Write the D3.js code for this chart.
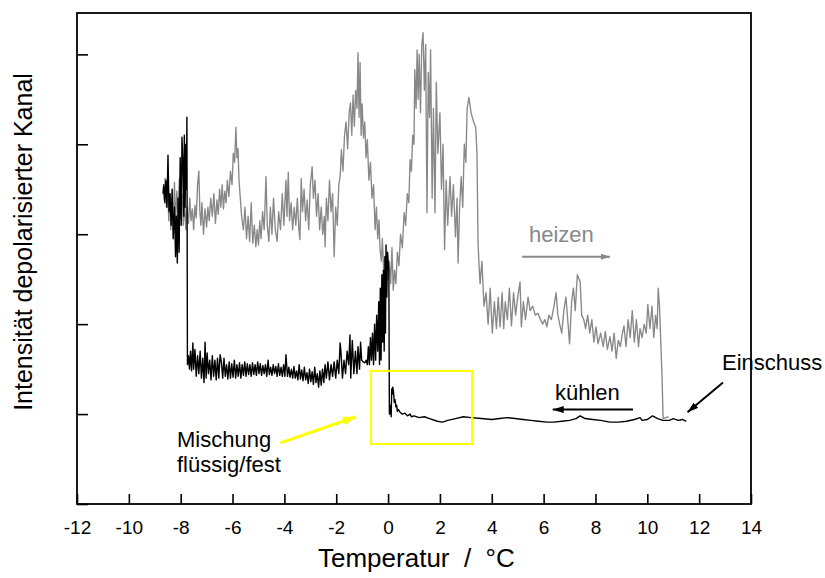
<!DOCTYPE html>
<head>
<meta charset="utf-8">
<style>

body {
  margin: 0;
  background: #fff;
}

text {
  font-family: "Liberation Sans", Arial, Helvetica, sans-serif;
  fill: #000;
}

.frame {
  fill: none;
  stroke: #000;
  stroke-width: 1.8px;
}

.tick line {
  stroke: #000;
  stroke-width: 1.6px;
}

.heat {
  fill: none;
  stroke: #888;
  stroke-width: 1.35px;
  stroke-linejoin: round;
}

.cool {
  fill: none;
  stroke: #000;
  stroke-width: 1.4px;
  stroke-linejoin: round;
}

</style>
<title>Depolarisation heizen / kuehlen</title>
</head>
<body>
<script src="https://cdn.jsdelivr.net/npm/d3@7"></script>
<script>

// temperature (degC), intensity (arb. units, axis ticks at 1..5)
var heatingFrozen = [
  [-8.68,3.52],[-8.64,3.38],[-8.60,3.62],[-8.55,3.30],[-8.50,3.55],[-8.46,3.15],[-8.42,3.45],[-8.38,3.05],
  [-8.33,3.40],[-8.28,3.20],[-8.24,3.58],[-8.20,3.10],[-8.15,3.48],[-8.10,3.25],[-8.05,3.62],[-8.00,3.18],
  [-7.95,3.45],[-7.90,3.10],[-7.85,3.35],[-7.80,3.05],[-7.76,3.30],[-7.70,3.12],[-7.65,3.40],[-7.60,3.15],
  [-7.55,3.28],[-7.50,3.05],[-7.45,3.32],[-7.40,3.18],[-7.35,3.55],[-7.30,3.70],[-7.26,3.25],[-7.22,3.10],
  [-7.18,3.35],[-7.12,3.00],[-7.06,3.28],[-7.00,3.08],[-6.95,3.30],[-6.90,3.15],[-6.84,3.40],[-6.78,3.20],
  [-6.72,3.45],[-6.66,3.12],[-6.60,3.38],[-6.55,3.22],[-6.50,3.50],[-6.45,3.30],[-6.40,3.55],[-6.35,3.28],
  [-6.30,3.48],[-6.25,3.35],[-6.20,3.60],[-6.14,3.42],[-6.08,3.70],[-6.02,3.55],[-5.97,3.90],[-5.92,3.80],
  [-5.87,4.19],[-5.83,3.85],[-5.79,3.95],[-5.75,3.60],[-5.70,3.40],[-5.65,3.20],[-5.58,3.05],[-5.52,3.30],
  [-5.46,2.95],[-5.40,3.20],[-5.34,2.92],[-5.28,3.35],[-5.22,2.90],[-5.16,3.10],[-5.10,2.86],[-5.05,3.05],
  [-5.00,2.88],[-4.95,3.15],[-4.90,2.95],[-4.84,3.25],[-4.78,3.05],[-4.71,3.64],[-4.66,3.10],[-4.60,2.92],
  [-4.54,3.30],[-4.48,3.00],[-4.42,3.40],[-4.35,3.05],[-4.28,2.92],[-4.22,3.25],[-4.15,3.05],[-4.08,3.45],
  [-4.02,3.10],[-3.94,3.60],[-3.90,3.20],[-3.85,3.69],[-3.80,3.15],[-3.74,3.35],[-3.68,3.05],[-3.62,3.30],
  [-3.56,3.10],[-3.50,3.40],[-3.44,3.05],[-3.40,2.94],[-3.35,3.62],[-3.30,3.25],[-3.24,3.50],[-3.18,3.15],
  [-3.12,3.38],[-3.06,3.05],[-3.00,3.55],[-2.93,3.75],[-2.88,3.40],[-2.82,3.60],[-2.76,3.20],[-2.70,3.45],
  [-2.64,3.05],[-2.58,3.30],[-2.52,3.00],[-2.46,3.20],[-2.43,2.86],[-2.38,3.40],[-2.32,3.15],[-2.26,3.60],
  [-2.20,3.25],[-2.14,3.45],[-2.08,2.75],[-2.02,3.30],[-1.96,3.10],[-1.90,3.55]
];

var heatingMelt = [
  [-1.85,3.64],[-1.80,3.94],[-1.74,3.70],[-1.68,4.10],[-1.62,4.25],[-1.56,3.95],[-1.50,4.35],[-1.45,4.46],
  [-1.40,4.10],[-1.35,4.55],[-1.30,4.20],[-1.25,4.60],[-1.20,4.40],[-1.16,5.02],[-1.12,4.30],[-1.08,4.91],
  [-1.04,4.10],[-1.00,4.45],[-0.95,4.07],[-0.90,4.25],[-0.85,3.85],[-0.80,4.05],[-0.74,3.60],[-0.68,3.80],
  [-0.62,3.40],[-0.56,3.55],[-0.50,3.05],[-0.45,3.30],[-0.40,2.95],[-0.35,3.16],[-0.31,2.83],[-0.26,2.70],
  [-0.22,2.95],[-0.17,2.60],[-0.12,2.75],[-0.06,2.50],[0.00,2.49],[0.05,2.70],[0.10,2.45],[0.15,2.85],
  [0.20,2.38],[0.25,2.60],[0.30,2.45],[0.36,2.80],[0.42,2.65],[0.48,3.00],[0.55,2.85],[0.62,3.24],
  [0.68,3.10],[0.74,3.45],[0.80,3.35],[0.85,3.83],[0.90,3.70],[0.95,4.10],[1.00,4.00],[1.03,4.83],
  [1.08,4.40],[1.12,5.05],[1.16,4.50],[1.20,5.00],[1.25,4.35],[1.30,5.10],[1.35,5.24],[1.40,4.60],
  [1.45,5.11],[1.50,3.24],[1.55,4.80],[1.60,4.30],[1.64,5.05],[1.70,3.40],[1.75,4.40],[1.81,3.24],
  [1.86,4.69],[1.92,3.90],[2.00,4.35],[2.06,3.50],[2.12,4.00],[2.18,2.83],[2.24,3.60],[2.30,3.10],
  [2.39,3.64],[2.45,3.20],[2.52,3.55],[2.60,2.97],[2.66,3.40],[2.70,2.68],[2.76,3.30],[2.82,3.64],
  [2.88,3.30],[2.94,4.00],[3.00,3.80],[3.05,4.40],[3.12,4.52],[3.20,4.35],[3.30,4.25],[3.38,4.19],
  [3.43,3.90],[3.47,2.90]
];

var heatingLiquid = [
  [3.52,2.60],[3.55,2.45],[3.62,2.70],[3.70,2.20],[3.78,2.35],[3.86,2.00],[3.94,2.40],[4.02,1.90],
  [4.10,2.25],[4.18,1.95],[4.25,2.30],[4.32,1.97],[4.40,2.35],[4.46,1.95],[4.52,2.25],[4.60,2.05],
  [4.68,2.40],[4.76,1.98],[4.84,2.35],[4.92,2.10],[5.00,2.30],[5.09,2.47],[5.14,1.97],[5.22,2.25],
  [5.30,2.05],[5.40,2.30],[5.48,2.15],[5.58,2.20],[5.68,2.10],[5.78,2.12],[5.88,2.05],[5.96,2.00],
  [6.05,2.05],[6.13,1.97],[6.20,2.10],[6.30,2.05],[6.40,2.20],[6.48,2.35],[6.55,2.10],[6.62,2.00],
  [6.70,1.90],[6.78,2.15],[6.86,2.30],[6.93,2.05],[7.00,1.78],[7.08,2.25],[7.15,2.40],[7.22,2.15],
  [7.30,2.55],[7.41,2.47],[7.47,2.10],[7.55,2.05],[7.62,1.95],[7.70,2.10],[7.78,1.90],[7.86,2.05],
  [7.94,1.80],[8.02,1.97],[8.10,1.78],[8.20,1.90],[8.30,1.75],[8.38,1.92],[8.46,1.72],[8.56,1.86],
  [8.64,1.70],[8.72,1.90],[8.80,1.62],[8.88,1.82],[8.96,1.75],[9.04,1.90],[9.10,1.98],[9.18,1.75],
  [9.26,2.05],[9.34,1.85],[9.42,2.15],[9.50,1.80],[9.58,2.05],[9.66,1.75],[9.72,1.95],[9.80,1.85],
  [9.88,2.00],[9.96,1.90],[10.02,2.22],[10.10,1.95],[10.18,2.20],[10.25,1.85],[10.32,2.10],[10.38,1.95],
  [10.42,2.40],[10.47,2.20],[10.52,1.80],[10.57,1.40],[10.61,0.95],[10.70,0.96],[10.82,0.97]
];

// cooling runs from the injection point (right) towards low temperatures
var coolingLiquid = [
  [11.50,0.92],[11.35,0.94],[11.20,0.93],[11.00,0.95],[10.85,0.93],[10.60,0.93],[10.40,0.95],[10.20,0.98],
  [10.00,0.94],[9.80,0.93],[9.72,0.96],[9.50,0.94],[9.20,0.92],[8.90,0.91],[8.56,0.91],[8.20,0.93],
  [7.90,0.94],[7.60,0.95],[7.41,0.98],[7.25,0.95],[7.00,0.93],[6.70,0.92],[6.40,0.91],[6.13,0.91],
  [5.80,0.92],[5.50,0.93],[5.20,0.94],[4.90,0.95],[4.60,0.96],[4.30,0.95],[4.00,0.94],[3.60,0.95],
  [3.20,0.96],[2.90,0.97],[2.60,0.95],[2.30,0.93],[2.10,0.91],[1.90,0.92],[1.60,0.95],[1.40,0.97],
  [1.20,0.96],[1.00,0.98],[0.90,0.97],[0.85,1.00],[0.75,0.98],[0.65,1.01],[0.55,1.00],[0.46,1.02],
  [0.40,1.05],[0.36,1.03],[0.33,1.10],[0.30,1.08],[0.27,1.16],[0.24,1.13],[0.21,1.25],[0.18,1.30],
  [0.16,1.22],[0.14,1.28],[0.12,0.97],[0.08,1.10],[0.05,1.00]
];

var coolingSupercooled = [
  [0.03,2.60],[-0.02,2.80],[-0.05,2.30],[-0.08,2.88],[-0.10,1.90],[-0.12,2.75],[-0.15,1.70],[-0.18,2.60],
  [-0.21,1.80],[-0.24,2.55],[-0.27,1.60],[-0.30,2.40],[-0.33,1.55],[-0.36,2.25],[-0.40,1.70],[-0.44,2.10],
  [-0.48,1.60],[-0.52,2.00],[-0.56,1.55],[-0.60,1.90],[-0.64,1.60],[-0.68,1.85],[-0.72,1.55],[-0.76,1.75],
  [-0.80,1.55],[-0.84,1.60],[-0.90,1.57],[-0.96,1.58],[-1.02,1.60],[-1.06,1.80],[-1.10,1.50],[-1.16,1.75],
  [-1.20,1.45],[-1.26,1.70],[-1.32,1.45],[-1.38,1.82],[-1.44,1.40],[-1.47,1.88],[-1.52,1.55],[-1.58,1.70],
  [-1.64,1.45],[-1.70,1.60],[-1.76,1.40],[-1.82,1.70],[-1.85,1.79],[-1.90,1.45],[-1.96,1.60],[-2.02,1.40],
  [-2.08,1.58],[-2.14,1.42],[-2.20,1.55],[-2.26,1.38],[-2.32,1.58],[-2.38,1.40],[-2.43,1.55],[-2.48,1.35],
  [-2.53,1.50],[-2.58,1.32],[-2.63,1.48],[-2.68,1.30],[-2.73,1.45],[-2.78,1.35],[-2.83,1.52],[-2.88,1.33],
  [-2.93,1.47],[-2.98,1.36],[-3.03,1.50],[-3.08,1.34],[-3.13,1.46],[-3.18,1.38],[-3.23,1.52],[-3.28,1.37],
  [-3.33,1.49],[-3.38,1.39],[-3.43,1.55],[-3.48,1.38],[-3.53,1.48],[-3.58,1.40],[-3.63,1.53],[-3.68,1.40],
  [-3.73,1.50],[-3.78,1.41],[-3.83,1.52],[-3.88,1.42],[-3.94,1.66],[-3.98,1.42],[-4.03,1.55],[-4.08,1.42],
  [-4.13,1.52],[-4.18,1.43],[-4.23,1.56],[-4.28,1.42],[-4.33,1.53],[-4.38,1.45],[-4.43,1.55],[-4.48,1.43],
  [-4.53,1.52],[-4.58,1.44],[-4.63,1.60],[-4.68,1.42],[-4.73,1.55],[-4.78,1.45],[-4.83,1.54],[-4.88,1.43],
  [-4.93,1.56],[-4.98,1.45],[-5.03,1.58],[-5.08,1.43],[-5.13,1.55],[-5.18,1.44],[-5.23,1.57],[-5.28,1.42],
  [-5.33,1.55],[-5.38,1.44],[-5.43,1.56],[-5.48,1.42],[-5.53,1.58],[-5.58,1.43],[-5.63,1.55],[-5.68,1.40],
  [-5.73,1.57],[-5.78,1.42],[-5.83,1.55],[-5.88,1.40],[-5.93,1.60],[-5.98,1.41],[-6.03,1.56],[-6.08,1.40],
  [-6.13,1.58],[-6.18,1.39],[-6.23,1.55],[-6.28,1.42],[-6.33,1.62],[-6.38,1.40],[-6.43,1.58],[-6.48,1.66],
  [-6.53,1.40],[-6.58,1.62],[-6.63,1.38],[-6.68,1.60],[-6.73,1.42],[-6.78,1.65],[-6.83,1.38],[-6.88,1.60],
  [-6.93,1.45],[-6.98,1.68],[-7.02,1.40],[-7.06,1.80],[-7.10,1.35],[-7.15,1.62],[-7.20,1.40],[-7.25,1.70],
  [-7.30,1.45],[-7.35,1.65],[-7.40,1.42],[-7.45,1.72],[-7.50,1.50],[-7.53,1.79],[-7.58,1.48],[-7.62,1.70],
  [-7.66,1.50],[-7.70,1.65],[-7.74,1.55]
];

var coolingFrozen = [
  [-7.76,4.30],[-7.78,3.50],[-7.80,4.00],[-7.83,3.30],[-7.86,4.10],[-7.88,3.20],[-7.91,3.75],[-7.95,4.08],
  [-7.98,3.10],[-8.02,3.85],[-8.06,2.80],[-8.10,3.40],[-8.13,2.68],[-8.17,3.20],[-8.20,2.75],[-8.24,3.30],
  [-8.29,2.95],[-8.33,3.50],[-8.37,3.10],[-8.41,3.45],[-8.45,3.25],[-8.49,3.88],[-8.53,3.30],[-8.57,3.60],
  [-8.61,3.35],[-8.65,3.55],[-8.68,3.45]
];

var xTicks = [-12, -10, -8, -6, -4, -2, 0, 2, 4, 6, 8, 10, 12, 14];
var yTicks = [0, 1, 2, 3, 4, 5];

var width = 825,
    height = 578;
var plot = { left: 77, right: 751, top: 13, bottom: 504 };

var x = d3.scaleLinear().domain([-12, 14]).range([plot.left, plot.right]);
var y = d3.scaleLinear().domain([0, 5.46]).range([plot.bottom, plot.top]);

var svg = d3.select("body").append("svg")
    .attr("width", width)
    .attr("height", height);

var defs = svg.append("defs");
function arrowHead(id, color, len, wid) {
  defs.append("marker")
      .attr("id", id)
      .attr("viewBox", "0 0 " + len + " " + wid)
      .attr("refX", len)
      .attr("refY", wid / 2)
      .attr("markerUnits", "userSpaceOnUse")
      .attr("markerWidth", len)
      .attr("markerHeight", wid)
      .attr("orient", "auto")
    .append("path")
      .attr("d", "M0,0L" + len + "," + (wid / 2) + "L0," + wid + "Z")
      .attr("fill", color);
}
arrowHead("head-grey", "#888", 9, 6);
arrowHead("head-black", "#000", 11, 7);
arrowHead("head-yellow", "#ffff00", 13, 9);

var line = d3.line()
    .x(function(d) { return x(d[0]); })
    .y(function(d) { return y(d[1]); });

svg.append("path")
    .datum(heatingFrozen.concat(heatingMelt, heatingLiquid))
    .attr("class", "heat")
    .attr("d", line);

svg.append("path")
    .datum(coolingLiquid.concat(coolingSupercooled, coolingFrozen))
    .attr("class", "cool")
    .attr("d", line);

// frame
svg.append("rect")
    .attr("class", "frame")
    .attr("x", plot.left)
    .attr("y", plot.top)
    .attr("width", plot.right - plot.left)
    .attr("height", plot.bottom - plot.top);

var xAxis = svg.append("g")
    .attr("transform", "translate(0," + plot.bottom + ")")
    .call(d3.axisBottom(x).tickValues(xTicks).tickSizeInner(-10).tickSizeOuter(0)
      .tickPadding(17).tickFormat(function(d) { return String(d); }));
xAxis.select(".domain").remove();
xAxis.selectAll("text")
    .style("font-size", "19px")
    .attr("font-family", null);

var yAxis = svg.append("g")
    .attr("transform", "translate(" + plot.left + ",0)")
    .call(d3.axisLeft(y).tickValues(yTicks).tickSizeInner(-11).tickSizeOuter(0).tickFormat(""));
yAxis.select(".domain").remove();

// axis titles
svg.append("text")
    .attr("x", 318)
    .attr("y", 567)
    .style("font-size", "26px")
    .style("white-space", "pre")
    .text("Temperatur  /  °C");

svg.append("text")
    .attr("transform", "translate(32,242)rotate(-90)")
    .attr("text-anchor", "middle")
    .style("font-size", "25px")
    .text("Intensität depolarisierter Kanal");

// annotations
svg.append("text")
    .attr("x", 529).attr("y", 242)
    .style("font-size", "22px")
    .style("fill", "#888")
    .text("heizen");
svg.append("line")
    .attr("x1", x(5.17)).attr("y1", y(2.75))
    .attr("x2", x(8.56)).attr("y2", y(2.75))
    .attr("stroke", "#888").attr("stroke-width", 2)
    .attr("marker-end", "url(#head-grey)");

svg.append("text")
    .attr("x", 555).attr("y", 400)
    .style("font-size", "22px")
    .text("kühlen");
svg.append("line")
    .attr("x1", x(9.45)).attr("y1", y(1.05))
    .attr("x2", x(6.35)).attr("y2", y(1.05))
    .attr("stroke", "#000").attr("stroke-width", 2)
    .attr("marker-end", "url(#head-black)");

svg.append("text")
    .attr("x", 722).attr("y", 370)
    .style("font-size", "22px")
    .text("Einschuss");
svg.append("line")
    .attr("x1", x(12.92)).attr("y1", y(1.35))
    .attr("x2", x(11.55)).attr("y2", y(1.02))
    .attr("stroke", "#000").attr("stroke-width", 2)
    .attr("marker-end", "url(#head-black)");

svg.append("text")
    .attr("x", 177).attr("y", 447)
    .style("font-size", "22px")
    .text("Mischung");
svg.append("text")
    .attr("x", 177).attr("y", 472)
    .style("font-size", "22px")
    .text("flüssig/fest");
svg.append("line")
    .attr("x1", x(-4.15)).attr("y1", y(0.68))
    .attr("x2", x(-1.24)).attr("y2", y(0.97))
    .attr("stroke", "#ffff00").attr("stroke-width", 3)
    .attr("marker-end", "url(#head-yellow)");

svg.append("rect")
    .attr("x", x(-0.66))
    .attr("y", y(1.48))
    .attr("width", x(3.24) - x(-0.66))
    .attr("height", y(0.667) - y(1.48))
    .attr("fill", "none")
    .attr("stroke", "#ffff00")
    .attr("stroke-width", 2);

</script>
</body>
